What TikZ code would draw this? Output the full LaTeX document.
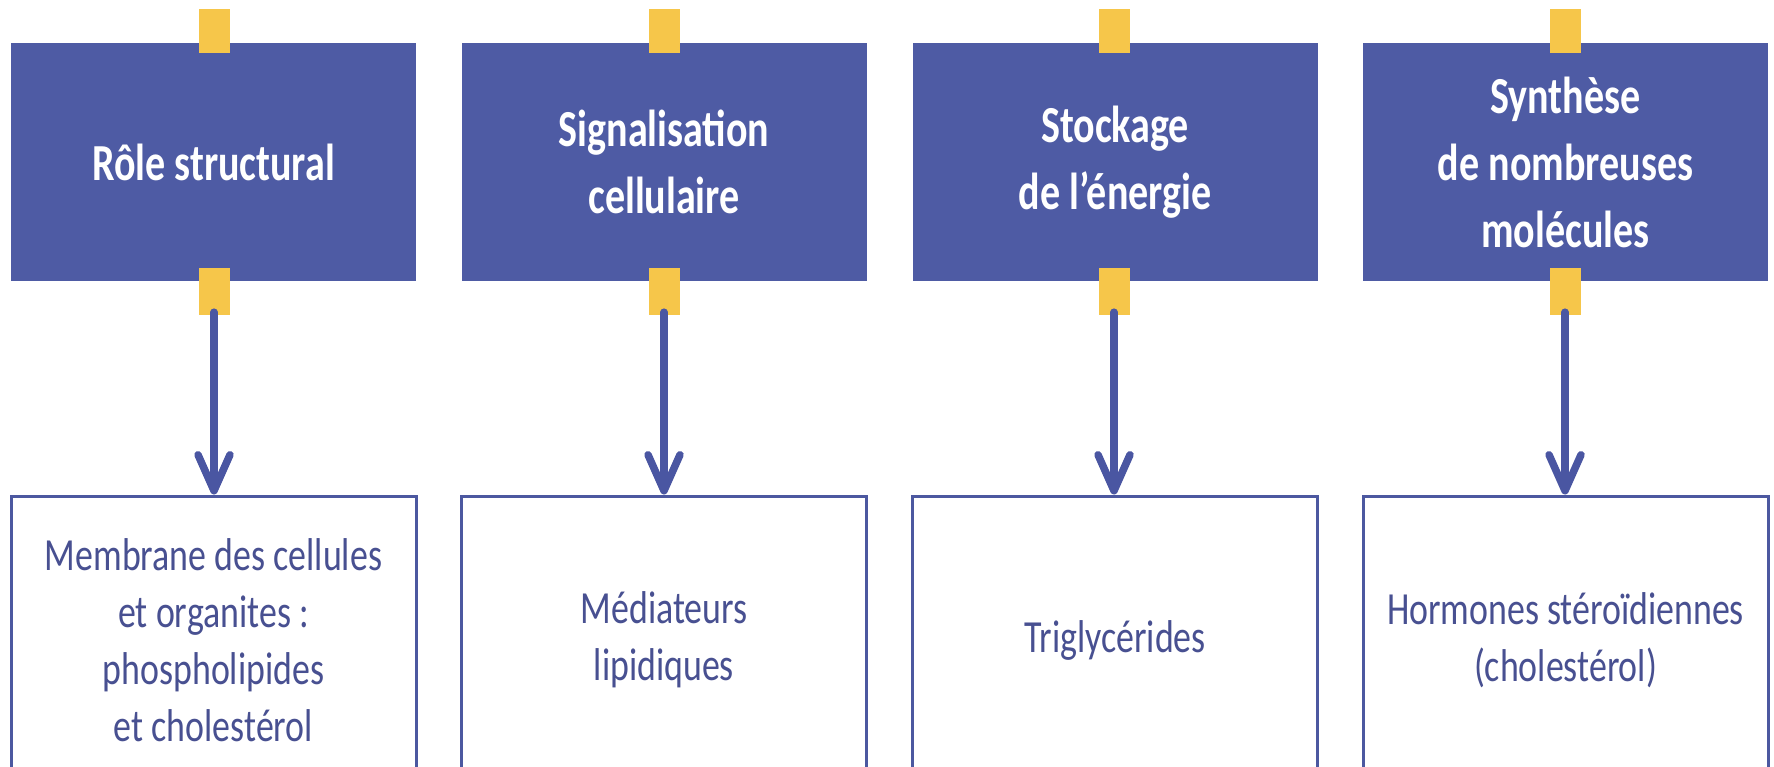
\documentclass[tikz,border=0pt]{standalone}
\usepackage{fontspec}
\setmainfont{Carlito}
\newfontfamily\headfont{Carlito}[FakeStretch=0.77]
\newfontfamily\bodyfont{Carlito}[FakeStretch=0.78]
\usetikzlibrary{arrows.meta}
\definecolor{headblue}{RGB}{78,91,164}
\definecolor{edgeblue}{RGB}{76,88,160}
\definecolor{arrowblue}{RGB}{74,86,162}
\definecolor{bodyblue}{RGB}{72,80,145}
\definecolor{tabyellow}{RGB}{246,198,74}
\tikzset{
  headbox/.style={fill=headblue, draw=none, minimum width=405pt, minimum height=238pt,
    inner sep=0pt, align=center, text=white,
    font=\headfont\bfseries\fontsize{52}{67}\selectfont},
  textbox/.style={draw=edgeblue, line width=3pt, fill=white, minimum width=405pt,
    minimum height=288pt, inner sep=0pt, align=center, text=bodyblue,
    font=\bodyfont\fontsize{46}{57}\selectfont},
  toptab/.style={fill=tabyellow, minimum width=31pt, minimum height=44pt, inner sep=0pt},
  bottab/.style={fill=tabyellow, minimum width=31pt, minimum height=47pt, inner sep=0pt},
  link/.style={draw=arrowblue, line width=7.5pt, line cap=round,
    -{Straight Barb[length=36pt,width=32pt,round]}}
}
\begin{document}
\begin{tikzpicture}[x=1pt,y=-1pt]
\useasboundingbox[fill=white] (0,0) rectangle (1774,767);

% header boxes
\node[headbox] (h1) at (213.5,162) {Rôle structural};
\node[headbox] (h2) at (664,162) {Signalisation\\cellulaire};
\node[headbox] (h3) at (1115,162) {Stockage\\de l’énergie};
\node[headbox] (h4) at (1565.5,162) {Synthèse\\de nombreuses\\molécules};

% yellow tabs on the header boxes
\node[toptab] (ta1) at (214,31) {};
\node[toptab] (ta2) at (664,31) {};
\node[toptab] (ta3) at (1114,31) {};
\node[toptab] (ta4) at (1565,31) {};
\node[bottab] (tb1) at (214,291.5) {};
\node[bottab] (tb2) at (664,291.5) {};
\node[bottab] (tb3) at (1114,291.5) {};
\node[bottab] (tb4) at (1565,291.5) {};

% detail boxes
\node[textbox] (b1) at (213.5,640) {Membrane des cellules\\et organites :\\phospholipides\\et cholestérol};
\node[textbox] (b2) at (664,640) {Médiateurs\\lipidiques};
\node[textbox] (b3) at (1115,640) {Triglycérides};
\node[textbox] (b4) at (1565.5,640) {Hormones stéroïdiennes\\(cholestérol)};

% connectors
\draw[link] ([yshift=3pt]tb1.south) -- (tb1.south |- b1.north);
\draw[link] ([yshift=3pt]tb2.south) -- (tb2.south |- b2.north);
\draw[link] ([yshift=3pt]tb3.south) -- (tb3.south |- b3.north);
\draw[link] ([yshift=3pt]tb4.south) -- (tb4.south |- b4.north);
\end{tikzpicture}
\end{document}
